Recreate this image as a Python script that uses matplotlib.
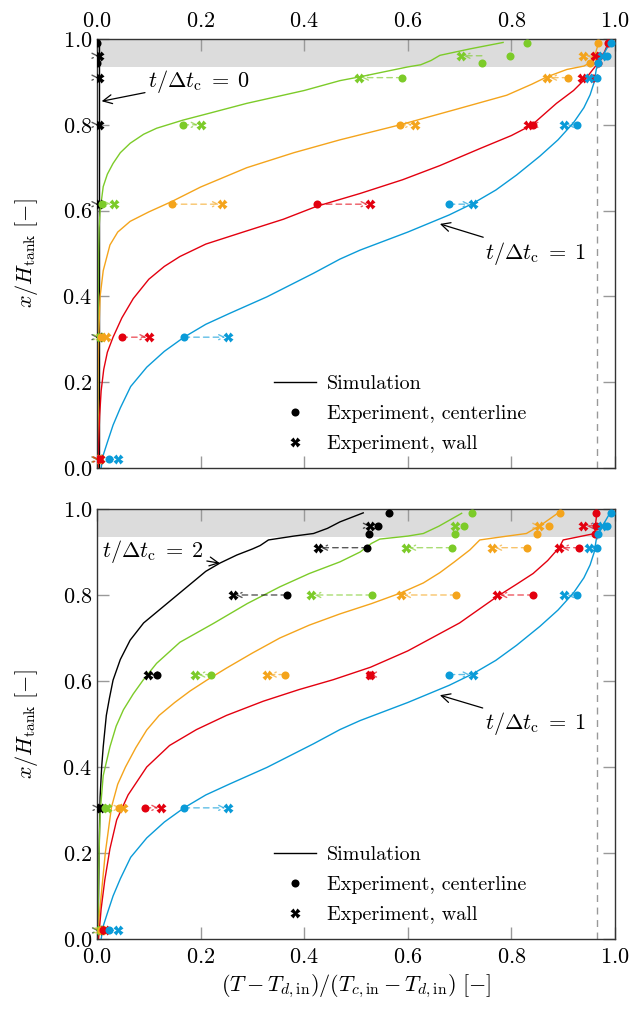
import matplotlib
matplotlib.use("Agg")
import matplotlib.pyplot as plt
from matplotlib.lines import Line2D

plt.rcParams['font.family'] = 'serif'
plt.rcParams['font.serif'] = ['cmr10', 'DejaVu Serif']
plt.rcParams['mathtext.fontset'] = 'cm'
plt.rcParams['axes.formatter.use_mathtext'] = True

# colours per time step
c_black = '#000000'
c_green = '#7ccb29'
c_orange = '#f4a41c'
c_red = '#e3000f'
c_blue = '#0a9bd8'

# measurement heights
h_center = [0.02, 0.305, 0.615, 0.80, 0.91, 0.943, 0.961, 0.991]
h_wall = [0.02, 0.305, 0.615, 0.80, 0.91, 0.961]

# ---------- upper panel: t/dtc from 0 to 1 ----------
sim0_T = [0.003, 0.003]
sim0_h = [0.0, 1.0]
exp0_c = [0.0, 0.0, 0.0, 0.0, 0.0, 0.0, 0.0, 0.0]
exp0_w = [0.003, 0.003, 0.003, 0.003, 0.003, 0.003]

simg1_T = [0.002, 0.002, 0.003, 0.004, 0.006, 0.012, 0.02, 0.031, 0.045, 0.064, 0.09, 0.115,
           0.166, 0.22, 0.289, 0.40, 0.469, 0.508, 0.56, 0.60, 0.625, 0.645, 0.662, 0.72, 0.784]
simg1_h = [0.0, 0.30, 0.50, 0.56, 0.60, 0.656, 0.685, 0.71, 0.735, 0.757, 0.778, 0.792,
           0.811, 0.828, 0.85, 0.88, 0.903, 0.912, 0.925, 0.935, 0.94, 0.95, 0.962, 0.977, 0.992]
expg1_c = [0.003, 0.003, 0.009, 0.166, 0.589, 0.743, 0.797, 0.831]
expg1_w = [0.005, 0.006, 0.033, 0.200, 0.506, 0.702]

simo1_T = [0.002, 0.002, 0.003, 0.006, 0.012, 0.025, 0.04, 0.064, 0.10, 0.144, 0.20, 0.289,
           0.38, 0.469, 0.585, 0.69, 0.791, 0.84, 0.869, 0.907, 0.94, 0.952, 0.962, 0.968]
simo1_h = [0.0, 0.20, 0.30, 0.40, 0.46, 0.52, 0.55, 0.575, 0.597, 0.621, 0.655, 0.70,
           0.735, 0.765, 0.80, 0.835, 0.869, 0.895, 0.912, 0.929, 0.937, 0.945, 0.965, 0.99]
expo1_c = [0.003, 0.007, 0.144, 0.585, 0.909, 0.952, 0.962, 0.968]
expo1_w = [0.004, 0.017, 0.241, 0.614, 0.869, 0.939]

simr1_T = [0.002, 0.003, 0.005, 0.008, 0.013, 0.02, 0.031, 0.048, 0.07, 0.10, 0.13, 0.16,
           0.21, 0.282, 0.36, 0.424, 0.508, 0.59, 0.662, 0.74, 0.80, 0.84, 0.887, 0.92,
           0.945, 0.958, 0.968, 0.978, 0.99]
simr1_h = [0.0, 0.05, 0.12, 0.18, 0.23, 0.27, 0.305, 0.35, 0.395, 0.44, 0.47, 0.493,
           0.522, 0.55, 0.58, 0.61, 0.64, 0.672, 0.705, 0.745, 0.775, 0.80, 0.85, 0.88,
           0.91, 0.93, 0.945, 0.965, 1.0]
expr1_c = [0.004, 0.048, 0.424, 0.841, 0.958, 0.967, 0.970, 0.987]
expr1_w = [0.006, 0.101, 0.528, 0.833, 0.936, 0.961]

simb_T = [0.008, 0.012, 0.020, 0.031, 0.045, 0.065, 0.096, 0.13, 0.168, 0.21, 0.257, 0.328,
          0.418, 0.469, 0.508, 0.60, 0.68, 0.726, 0.77, 0.81, 0.855, 0.89, 0.92, 0.94,
          0.952, 0.96, 0.964, 0.968, 0.978, 0.99, 0.995]
simb_h = [0.0, 0.03, 0.06, 0.10, 0.14, 0.19, 0.235, 0.272, 0.305, 0.335, 0.361, 0.399,
          0.454, 0.487, 0.508, 0.55, 0.59, 0.617, 0.648, 0.683, 0.727, 0.765, 0.805, 0.84,
          0.87, 0.90, 0.93, 0.945, 0.965, 0.99, 1.0]
expb_c = [0.024, 0.168, 0.680, 0.926, 0.965, 0.968, 0.984, 0.993]
expb_w = [0.040, 0.253, 0.725, 0.902, 0.949, 0.975]

# ---------- lower panel: t/dtc from 1 to 2 ----------
sim2_T = [0.002, 0.003, 0.004, 0.006, 0.009, 0.012, 0.018, 0.024, 0.031, 0.045, 0.064, 0.09,
          0.128, 0.17, 0.21, 0.237, 0.27, 0.30, 0.315, 0.331, 0.38, 0.418, 0.445, 0.469, 0.514]
sim2_h = [0.0, 0.10, 0.20, 0.33, 0.40, 0.447, 0.52, 0.56, 0.602, 0.65, 0.695, 0.735,
          0.773, 0.815, 0.855, 0.874, 0.893, 0.907, 0.915, 0.928, 0.937, 0.943, 0.955, 0.97, 0.991]
exp2_c = [0.002, 0.003, 0.116, 0.366, 0.522, 0.526, 0.543, 0.564]
exp2_w = [0.004, 0.005, 0.099, 0.262, 0.427, 0.527]

simg2_T = [0.002, 0.003, 0.006, 0.012, 0.025, 0.037, 0.051, 0.07, 0.089, 0.115, 0.16, 0.225,
           0.29, 0.353, 0.41, 0.469, 0.508, 0.53, 0.546, 0.60, 0.63, 0.66, 0.704]
simg2_h = [0.0, 0.15, 0.293, 0.38, 0.447, 0.495, 0.533, 0.57, 0.602, 0.641, 0.69, 0.734,
           0.78, 0.819, 0.85, 0.877, 0.90, 0.92, 0.93, 0.937, 0.943, 0.96, 0.99]
expg2_c = [0.004, 0.016, 0.221, 0.530, 0.685, 0.691, 0.708, 0.723]
expg2_w = [0.006, 0.020, 0.190, 0.414, 0.597, 0.691]

simo2_T = [0.002, 0.004, 0.008, 0.016, 0.028, 0.04, 0.055, 0.075, 0.096, 0.12, 0.15, 0.18,
           0.212, 0.25, 0.30, 0.353, 0.41, 0.469, 0.53, 0.587, 0.63, 0.662, 0.69, 0.72,
           0.739, 0.78, 0.829, 0.86, 0.894]
simo2_h = [0.0, 0.05, 0.10, 0.20, 0.307, 0.36, 0.40, 0.445, 0.486, 0.52, 0.55, 0.577,
           0.602, 0.63, 0.665, 0.70, 0.73, 0.756, 0.78, 0.805, 0.828, 0.852, 0.877, 0.905,
           0.928, 0.935, 0.943, 0.965, 0.994]
expo2_c = [0.008, 0.043, 0.362, 0.693, 0.830, 0.850, 0.873, 0.893]
expo2_w = [0.010, 0.051, 0.328, 0.587, 0.763, 0.854]

simr2_T = [0.003, 0.008, 0.015, 0.025, 0.038, 0.06, 0.096, 0.14, 0.192, 0.25, 0.321, 0.39,
           0.456, 0.528, 0.60, 0.70, 0.772, 0.81, 0.842, 0.87, 0.892, 0.90, 0.961, 0.963, 0.965]
simr2_h = [0.0, 0.07, 0.137, 0.21, 0.277, 0.335, 0.40, 0.45, 0.487, 0.52, 0.553, 0.58,
           0.603, 0.632, 0.67, 0.735, 0.796, 0.825, 0.85, 0.88, 0.91, 0.928, 0.943, 0.97, 0.99]
expr2_c = [0.012, 0.093, 0.528, 0.842, 0.931, 0.961, 0.963, 0.963]
expr2_w = [0.016, 0.124, 0.527, 0.773, 0.892, 0.939]

band_lo = 0.935
T_ref = 0.965

top_series = [
    (sim0_T, sim0_h, exp0_c, exp0_w, c_black),
    (simg1_T, simg1_h, expg1_c, expg1_w, c_green),
    (simo1_T, simo1_h, expo1_c, expo1_w, c_orange),
    (simr1_T, simr1_h, expr1_c, expr1_w, c_red),
    (simb_T, simb_h, expb_c, expb_w, c_blue),
]
bottom_series = [
    (sim2_T, sim2_h, exp2_c, exp2_w, c_black),
    (simg2_T, simg2_h, expg2_c, expg2_w, c_green),
    (simo2_T, simo2_h, expo2_c, expo2_w, c_orange),
    (simr2_T, simr2_h, expr2_c, expr2_w, c_red),
    (simb_T, simb_h, expb_c, expb_w, c_blue),
]


def draw_panel(ax, series):
    ax.axhspan(band_lo, 1.0, color='#dcdcdc', lw=0, zorder=0)
    ax.plot([T_ref, T_ref], [0, band_lo], color='#999999', lw=1.0,
            dashes=(5, 4), zorder=1)
    for sT, sh, ec, ew, col in series:
        ax.plot(sT, sh, color=col, lw=1.0, zorder=2)
        for xc, xw, h in zip(ec, ew, h_wall):
            ax.annotate('', xy=(xw, h), xytext=(xc, h),
                        arrowprops=dict(arrowstyle='->', color=col, alpha=0.65,
                                        lw=1.0, linestyle=(0, (4, 3)),
                                        shrinkA=0, shrinkB=2,
                                        mutation_scale=9),
                        zorder=3)
        ax.plot(ec, h_center, 'o', color=col, ms=5.8, mec='none', zorder=4)
        ax.plot(ew, h_wall, 'X', color=col, ms=6.8, mec='none', zorder=4)
    ax.set_xlim(0, 1)
    ax.set_ylim(0, 1)
    ax.set_xticks([0, 0.2, 0.4, 0.6, 0.8, 1.0])
    ax.set_yticks([0, 0.2, 0.4, 0.6, 0.8, 1.0])
    ax.tick_params(direction='in', length=8.5, width=1, color='#999999',
                   top=True, right=True, labelsize=16)
    ax.tick_params(axis='x', pad=6)
    for sp in ax.spines.values():
        sp.set_color('#333333')
        sp.set_linewidth(1.0)
    ax.set_ylabel(r'$x/H_\mathrm{tank}\ [-]$', fontsize=16, labelpad=16)
    handles = [Line2D([], [], color='k', lw=1.0),
               Line2D([], [], ls='none', marker='o', color='k', ms=5.8, mec='none'),
               Line2D([], [], ls='none', marker='X', color='k', ms=6.8, mec='none')]
    ax.legend(handles, ['Simulation', 'Experiment, centerline', 'Experiment, wall'],
              loc='lower left', bbox_to_anchor=(0.342, 0.035), frameon=False,
              fontsize=14.5, borderpad=0, borderaxespad=0, handlelength=2.1,
              handletextpad=0.5, labelspacing=0.58)


fig = plt.figure(figsize=(6.34, 10.19), dpi=100)
ax1 = fig.add_axes([0.153, 0.5407, 0.817, 0.421])
ax2 = fig.add_axes([0.153, 0.0785, 0.817, 0.422])

draw_panel(ax1, top_series)
draw_panel(ax2, bottom_series)

ax1.tick_params(labeltop=True, labelbottom=False)
ax2.set_xlabel(r'$(T-T_{d,\mathrm{in}})/(T_{c,\mathrm{in}}-T_{d,\mathrm{in}})\ [-]$',
               fontsize=16)

arrow = dict(arrowstyle='->', color='k', lw=0.9, shrinkA=0, shrinkB=0)
ax1.annotate(r'$t/\Delta t_\mathrm{c}\;=\;0$', xy=(0.009, 0.855), xytext=(0.098, 0.90),
             fontsize=16, va='center', ha='left', arrowprops=arrow)
ax1.annotate(r'$t/\Delta t_\mathrm{c}\;=\;1$', xy=(0.662, 0.569), xytext=(0.75, 0.50),
             fontsize=16, va='center', ha='left', arrowprops=arrow)
ax2.annotate(r'$t/\Delta t_\mathrm{c}\;=\;2$', xy=(0.237, 0.874), xytext=(0.01, 0.90),
             fontsize=16, va='center', ha='left', arrowprops=arrow)
ax2.annotate(r'$t/\Delta t_\mathrm{c}\;=\;1$', xy=(0.662, 0.567), xytext=(0.75, 0.50),
             fontsize=16, va='center', ha='left', arrowprops=arrow)

fig.savefig('out.png', dpi=100)
